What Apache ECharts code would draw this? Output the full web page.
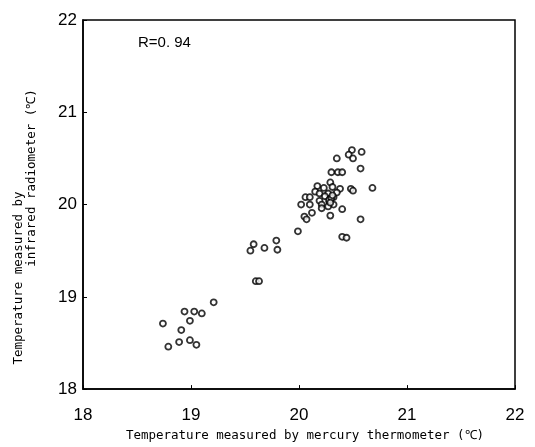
<!DOCTYPE html>
<html><head><meta charset="utf-8">
<script src="https://cdn.jsdelivr.net/npm/echarts@6/dist/echarts.min.js"></script>
<style>html,body{margin:0;padding:0;background:#fff}#c{width:535px;height:447px}</style>
</head><body><div id="c"></div>
<script>
// mercury thermometer (x) readings
const mercury = [
  19.21,18.94,19.03,19.10,18.99,18.74,18.91,18.79,18.89,18.99,19.05,
  19.99,19.58,19.55,19.79,19.68,19.80,19.60,19.63,20.40,20.44,
  20.49,20.46,20.50,20.58,20.35,20.30,20.36,20.40,20.57,20.68,20.48,20.50,
  20.29,20.17,20.23,20.31,20.38,20.15,20.19,20.27,20.35,20.06,20.10,20.24,20.32,
  20.29,20.28,20.19,20.02,20.10,20.21,20.32,20.21,20.27,20.40,20.05,20.07,20.12,20.29,20.57,
  20.28,20.30,20.29,20.31
];
// infrared radiometer (y) readings
const infrared = [
  18.94,18.84,18.84,18.82,18.74,18.71,18.64,18.46,18.51,18.53,18.48,
  19.71,19.57,19.50,19.61,19.53,19.51,19.17,19.17,19.65,19.64,
  20.59,20.54,20.50,20.57,20.50,20.35,20.35,20.35,20.39,20.18,20.17,20.15,
  20.24,20.20,20.18,20.19,20.17,20.14,20.12,20.12,20.13,20.08,20.08,20.09,20.08,
  20.06,20.03,20.04,20.00,20.00,20.00,20.00,19.96,19.98,19.95,19.87,19.84,19.91,19.88,19.84,
  20.05,20.07,20.02,20.10
];
const xTicks = [18,19,20,21,22];
const yTicks = [18,19,20,21,22];
const rText = 'R=0. 94';

const pts = mercury.map((v,i)=>[v, infrared[i]]);
const chart = echarts.init(document.getElementById('c'), null, {renderer:'canvas'});
chart.setOption({
  animation:false,
  backgroundColor:'#fff',
  grid:{left:83, right:20, top:20, bottom:54, show:true, borderColor:'#000', borderWidth:1.5},
  xAxis:{
    type:'value', min:xTicks[0], max:xTicks[xTicks.length-1], interval:1,
    name:'Temperature measured by mercury thermometer (℃)',
    nameLocation:'middle', nameGap:39,
    nameTextStyle:{fontFamily:'DejaVu Sans Mono', fontSize:12.5, color:'#000', padding:[0,0,0,12]},
    axisLine:{lineStyle:{color:'#000', width:1.5}},
    axisTick:{inside:true, length:4, lineStyle:{color:'#000'}},
    axisLabel:{color:'#000', fontFamily:'Liberation Sans', fontSize:17, margin:18},
    splitLine:{show:false}
  },
  yAxis:{
    type:'value', min:yTicks[0], max:yTicks[yTicks.length-1], interval:1,
    axisLine:{lineStyle:{color:'#000', width:1.5}},
    axisTick:{inside:true, length:4, lineStyle:{color:'#000'}},
    axisLabel:{color:'#000', fontFamily:'Liberation Sans', fontSize:17, margin:6},
    splitLine:{show:false}
  },
  series:[{
    type:'scatter', data:pts, symbol:'circle', symbolSize:6,
    itemStyle:{color:'#fff', borderColor:'#000', borderWidth:1.8}
  }],
  graphic:[
    {type:'text', left:138, top:35, style:{text:rText, font:'15px "Liberation Sans"', fill:'#000'}},
    {type:'text', x:19, y:278, rotation:Math.PI/2,
     style:{text:'Temperature measured by', font:'12.5px "DejaVu Sans Mono"', fill:'#000', align:'center', verticalAlign:'middle'}},
    {type:'text', x:32, y:178, rotation:Math.PI/2,
     style:{text:'infrared radiometer (℃)', font:'12.5px "DejaVu Sans Mono"', fill:'#000', align:'center', verticalAlign:'middle'}}
  ]
});
</script></body></html>
